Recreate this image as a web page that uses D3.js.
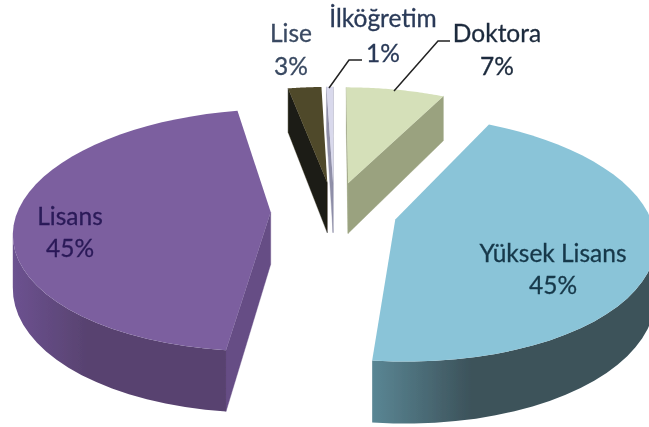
<!DOCTYPE html>
<html><head><meta charset="utf-8">
<style>html,body{margin:0;padding:0;background:#fff}svg{display:block}</style>
<script src="https://cdn.jsdelivr.net/npm/d3@7/dist/d3.min.js"></script>
</head><body><script>
const categories = ["Doktora","Yüksek Lisans","Lisans","Lise","İlköğretim"];
const values = [7.4,44.4,45.2,2.5,0.5];
const percentLabels = ["7%","45%","45%","3%","1%"];
const topColors = ["#d5e0b9","#8ac4d8","#7b5f9f","#4f4829","#d9d9ec"];
const wallColors = ["#9aa27f","#3f5c66","#664d85","#1f1d12","#8f8fa8"];
const arcColorsA = ["#9aa27f","#5a8694","#6c5290","#1f1d12","#8f8fa8"];
const arcColorsB = ["#9aa27f","#3c525a","#584270","#1f1d12","#8f8fa8"];
const textColors = ["#1d2b3d","#17384a","#2b1a58","#3a4a62","#2a3a58"];
const drawOrder = [0,3,4,1,2];

const W=649,H=427;
const cx=334,cy=211,rx=253,ry=118,persp=0.15,explode=0.25,depth=52;
const xS=d3.scaleLinear().domain([-1,1]).range([cx-rx,cx+rx]);
const yS=d3.scaleLinear().domain([-1,1]).range([cy+ry,cy-ry]);
const svg=d3.select("body").append("svg").attr("width",W).attr("height",H);
const defs=svg.append("defs");
defs.append("filter").attr("id","soft").attr("x","-5%").attr("y","-5%").attr("width","110%").attr("height","110%")
  .append("feGaussianBlur").attr("stdDeviation",0.7);
const root=svg.append("g").attr("filter","url(#soft)");

const arcs=d3.pie().sort(null).value(d=>d)(values);
const line=d3.line().x(d=>d[0]).y(d=>d[1]);
const project=(u,v,drop)=>{const w=1+persp*v;return [xS(u/w),yS(v/w)+(drop?depth/w:0)];};

drawOrder.forEach(i=>{
  const a=arcs[i];
  const mid=(a.startAngle+a.endAngle)/2;
  const du=explode*Math.sin(mid),dv=explode*Math.cos(mid);
  const steps=d3.range(0,41).map(k=>a.startAngle+(a.endAngle-a.startAngle)*k/40);
  const rim=steps.map(t=>[du+Math.sin(t),dv+Math.cos(t)]);
  const apex=[du,dv];
  const g=root.append("g").attr("class","slice");
  const wall=(p,q,fill)=>{
    const P=project(p[0],p[1]),Q=project(q[0],q[1]);
    if(Q[0]>=P[0])return;
    g.append("path").attr("d",line([project(p[0],p[1]),project(q[0],q[1]),project(q[0],q[1],1),project(p[0],p[1],1)])+"Z").attr("fill",fill).attr("stroke",fill).attr("stroke-width",.4);
  };
  wall(apex,rim[0],wallColors[i]);
  wall(rim[rim.length-1],apex,wallColors[i]);
  const front=[];
  rim.forEach((p,k)=>{if(k<rim.length-1&&project(rim[k+1][0],rim[k+1][1])[0]<project(p[0],p[1])[0])front.push(k);});
  if(front.length){
    const run=front.map(k=>rim[k]).concat([rim[front[front.length-1]+1]]);
    const upper=run.map(p=>project(p[0],p[1]));
    const lower=run.map(p=>project(p[0],p[1],1)).reverse();
    const id="grad"+i;
    const gr=defs.append("linearGradient").attr("id",id).attr("gradientUnits","userSpaceOnUse")
      .attr("x1",upper[upper.length-1][0]).attr("x2",upper[0][0]).attr("y1",0).attr("y2",0);
    gr.append("stop").attr("offset",0).attr("stop-color",arcColorsA[i]);
    gr.append("stop").attr("offset",.35).attr("stop-color",arcColorsB[i]);
    gr.append("stop").attr("offset",1).attr("stop-color",arcColorsB[i]);
    g.append("path").attr("d",line(upper.concat(lower))+"Z").attr("fill",`url(#${id})`);
  }
  g.append("path").attr("d",line([apex].concat(rim).map(p=>project(p[0],p[1])))+"Z").attr("fill",topColors[i]);
});

const leaders=[[[394,91],[438,41],[450,41]],[[329,88],[349,60],[362,60]]];
root.selectAll("path.leader").data(leaders).join("path").attr("class","leader")
  .attr("d",d=>line(d)).attr("fill","none").attr("stroke","#222").attr("stroke-width",1.5);

const labelPos=[[497,42,75],[553,262,294],[70,225,257],[291,42,75],[383,27,62]];
categories.forEach((c,i)=>{
  const [x,y1,y2]=labelPos[i];
  [[c,y1],[percentLabels[i],y2]].forEach(([t,y])=>{
    root.append("text").attr("x",x).attr("y",y).attr("text-anchor","middle")
      .attr("font-family","Lato, 'Open Sans', sans-serif").attr("font-size",24.5)
      .attr("fill",textColors[i]).attr("stroke",textColors[i]).attr("stroke-width",.3).text(t);
  });
});
</script></body></html>
